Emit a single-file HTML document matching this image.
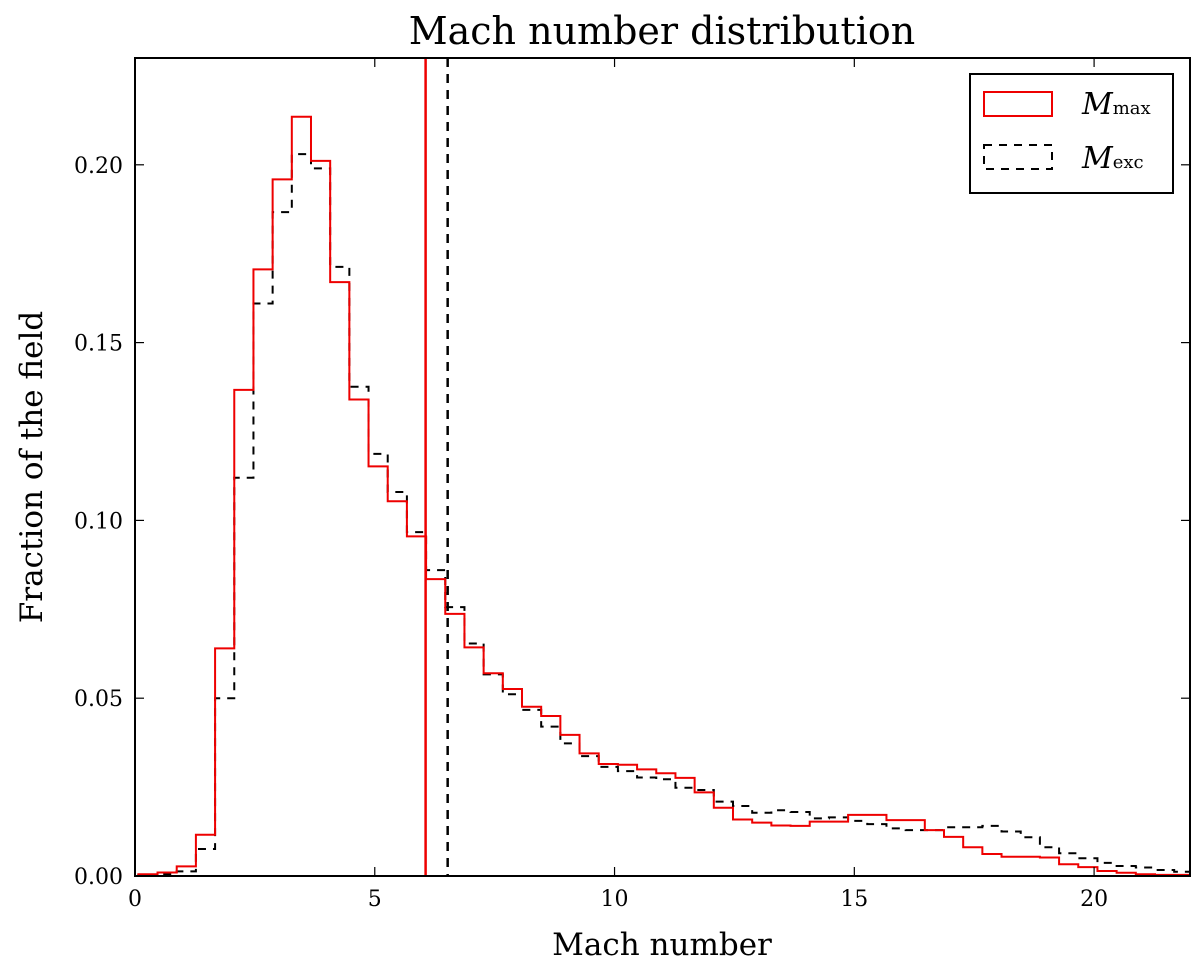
<!DOCTYPE html>
<html><head><meta charset="utf-8"><style>
body{margin:0;background:#fff;}
svg text{font-family:"DejaVu Serif","Liberation Serif",serif;}
</style></head><body>
<svg id="chart" width="1200" height="966" viewBox="0 0 1200 966" xmlns="http://www.w3.org/2000/svg">
<rect width="1200" height="966" fill="#fff"/>
<text x="662" y="44" font-size="38" text-anchor="middle">Mach number distribution</text>
<g id="plot"></g>
<text x="662" y="955" font-size="31" text-anchor="middle">Mach number</text>
<text transform="translate(42,467) rotate(-90)" font-size="31" text-anchor="middle">Fraction of the field</text>
<g>
<rect x="970" y="74" width="203" height="119" fill="#fff" stroke="#000" stroke-width="2"/>
<rect x="984" y="92" width="68" height="24" fill="none" stroke="#e00" stroke-width="2"/>
<text x="1082" y="114" font-size="30" font-style="italic">M<tspan font-size="18" font-style="normal">max</tspan></text>
<rect x="984" y="145" width="68" height="24" fill="none" stroke="#000" stroke-width="2" stroke-dasharray="8,7"/>
<text x="1082" y="168" font-size="30" font-style="italic">M<tspan font-size="18" font-style="normal">exc</tspan></text>
</g>
</svg>
<script>
const binStart = 0.07;
const binWidth = 0.4;
const maxValues = [0.0005,0.001,0.0027,0.0116,0.064,0.1367,0.1706,0.1959,0.2135,0.2011,0.167,0.134,0.1152,0.1054,0.0955,0.0835,0.0737,0.0643,0.057,0.0526,0.0476,0.045,0.0397,0.0345,0.0315,0.0313,0.030,0.0289,0.0276,0.0235,0.0192,0.0159,0.015,0.0142,0.0141,0.0153,0.0153,0.0172,0.0172,0.0157,0.0157,0.0129,0.011,0.0081,0.0062,0.0054,0.0054,0.0052,0.0033,0.0025,0.0014,0.0009,0.0005,0.0003,0.0003,0.0002];
const excValues = [0.0003,0.0005,0.0013,0.0076,0.050,0.112,0.161,0.1867,0.203,0.199,0.1713,0.1376,0.1187,0.108,0.0967,0.086,0.0756,0.0654,0.0567,0.0511,0.0467,0.042,0.0373,0.0337,0.0307,0.0295,0.0277,0.0272,0.0248,0.0242,0.0209,0.0197,0.0178,0.0185,0.018,0.0162,0.0165,0.0155,0.0146,0.0134,0.0129,0.0129,0.0137,0.0137,0.0141,0.0125,0.0109,0.0081,0.0064,0.005,0.0037,0.0028,0.0024,0.0017,0.0012,0.001];
const medianMax = 6.06;
const medianExc = 6.52;
const xTicks = [0,5,10,15,20];
const yTicks = [0,0.05,0.10,0.15,0.20];
const yTickLabels = ["0.00","0.05","0.10","0.15","0.20"];

const L=135,R=1190,T=58,B=876,XMAX=22,YMAX=(876-58)/3556;
const sx=v=>L+(v/XMAX)*(R-L);
const sy=v=>B-(v/YMAX)*(B-T);
const NS="http://www.w3.org/2000/svg";
const plot=document.getElementById('plot');
function mk(tag,attrs){const e=document.createElementNS(NS,tag);for(const k in attrs)e.setAttribute(k,attrs[k]);return e;}

const defs=mk('defs',{});const cp=mk('clipPath',{id:'clip'});cp.appendChild(mk('rect',{x:L,y:T,width:R-L,height:B-T}));defs.appendChild(cp);plot.appendChild(defs);
const g=mk('g',{'clip-path':'url(#clip)'});plot.appendChild(g);

function stepPath(vals){
  let d='M'+sx(0)+','+sy(0)+' L'+sx(binStart)+','+sy(0);
  vals.forEach((v,i)=>{const a=binStart+i*binWidth,b=a+binWidth;d+=' L'+sx(a)+','+sy(v)+' L'+sx(b)+','+sy(v);});
  const end=binStart+vals.length*binWidth;d+=' L'+sx(end)+','+sy(0);
  return d;
}
const pExc=mk('path',{d:stepPath(excValues),fill:'none',stroke:'#000','stroke-width':2,'stroke-dasharray':'8,7'});


g.appendChild(pExc);
const pMax=mk('path',{d:stepPath(maxValues),fill:'none',stroke:'#e00','stroke-width':2});


g.appendChild(pMax);
const vMax=mk('line',{x1:sx(medianMax),x2:sx(medianMax),y1:T,y2:B,stroke:'#e00','stroke-width':2.5});


g.appendChild(vMax);
const vExc=mk('line',{x1:sx(medianExc),x2:sx(medianExc),y1:T,y2:B,stroke:'#000','stroke-width':2.5,'stroke-dasharray':'9,7'});


g.appendChild(vExc);

const frame=mk('rect',{x:L,y:T,width:R-L,height:B-T,fill:'none',stroke:'#000','stroke-width':2});


plot.appendChild(frame);

xTicks.forEach(v=>{
  const x=sx(v);
  plot.appendChild(mk('line',{x1:x,x2:x,y1:B,y2:B-9,stroke:'#000','stroke-width':1.2}));
  plot.appendChild(mk('line',{x1:x,x2:x,y1:T,y2:T+9,stroke:'#000','stroke-width':1.2}));
  const t=mk('text',{x:x,y:B+30,'font-size':22,'text-anchor':'middle'});t.textContent=String(v);
  
  
  plot.appendChild(t);
});
yTicks.forEach((v,i)=>{
  const y=sy(v);
  plot.appendChild(mk('line',{x1:L,x2:L+9,y1:y,y2:y,stroke:'#000','stroke-width':1.2}));
  plot.appendChild(mk('line',{x1:R,x2:R-9,y1:y,y2:y,stroke:'#000','stroke-width':1.2}));
  const t=mk('text',{x:L-12,y:y+8,'font-size':22,'text-anchor':'end'});t.textContent=yTickLabels[i];
  
  
  plot.appendChild(t);
});
</script>
</body></html>
